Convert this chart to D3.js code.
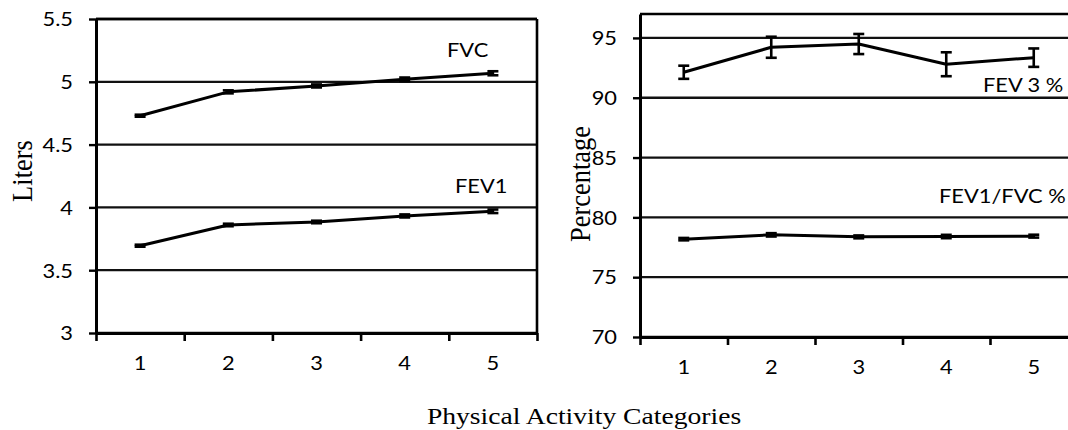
<!DOCTYPE html>
<html>
<head>
<meta charset="utf-8">
<script src="https://cdn.jsdelivr.net/npm/d3@7"></script>
<style>
  html, body { margin: 0; padding: 0; background: #fff; }
  svg { display: block; }
</style>
</head>
<body>
<svg id="chart" width="1068" height="430"></svg>
<script>
// ---------- DATA ----------
const categories = [1, 2, 3, 4, 5];
const fvc      = [4.73, 4.92, 4.967, 5.02, 5.068];
const fvcErr   = [0.008, 0.012, 0.012, 0.014, 0.016];
const fev1     = [3.695, 3.86, 3.884, 3.932, 3.969];
const fev1Err  = [0.008, 0.01, 0.01, 0.012, 0.014];
const fev3Pct  = [92.13, 94.22, 94.49, 92.8, 93.35];
const fev3Err  = [0.55, 0.88, 0.84, 1.0, 0.77];
const ratioPct = [78.18, 78.54, 78.37, 78.4, 78.43];
const ratioErr = [0.1, 0.14, 0.12, 0.14, 0.12];
const leftTicks  = [3, 3.5, 4, 4.5, 5, 5.5];
const rightTicks = [70, 75, 80, 85, 90, 95];
const leftDomain  = [3, 5.5];
const rightDomain = [70, 97];

// ---------- SETUP ----------
const svg = d3.select("#chart");
const SX = 1.15;           // horizontal stretch of the original picture
const tickFont = "Lato, 'Open Sans', sans-serif";
const serif = "'Liberation Serif', 'Times New Roman', serif";
const FS = "19px";

function panel(cfg) {
  const g = svg.append("g");
  const x = d3.scaleBand().domain(cfg.categories).range([cfg.x0, cfg.x1]);
  const xb = d3.scaleLinear().domain([0.5, cfg.categories.length + 0.5]).range([cfg.x0, cfg.x1]);
  const y = d3.scaleLinear().domain(cfg.domain).range([cfg.y1, cfg.y0]);

  // gridlines
  g.append("g").selectAll("line").data(cfg.ticks).join("line")
    .attr("x1", cfg.x0).attr("x2", cfg.x1)
    .attr("y1", d => y(d)).attr("y2", d => y(d))
    .attr("stroke", "#111").attr("stroke-width", 2.3);

  // top border & right border
  g.append("line").attr("x1", cfg.x0).attr("x2", cfg.x1)
    .attr("y1", cfg.y0).attr("y2", cfg.y0)
    .attr("stroke", "#000").attr("stroke-width", 2.6);
  g.append("line").attr("x1", cfg.x1).attr("x2", cfg.x1)
    .attr("y1", cfg.y0).attr("y2", cfg.y1)
    .attr("stroke", "#000").attr("stroke-width", 2.6);

  // y axis
  const ya = g.append("g").attr("transform", `translate(${cfg.x0},0)`)
    .call(d3.axisLeft(y).tickValues(cfg.ticks).tickFormat(d => String(d))
      .tickSize(7).tickSizeOuter(0).tickPadding(0));
  ya.select(".domain").attr("stroke", "#000").attr("stroke-width", 3);
  ya.selectAll(".tick line").attr("stroke", "#000").attr("stroke-width", 2.4);
  ya.selectAll(".tick text")
    .attr("x", null).attr("dy", null).attr("y", null)
    .attr("transform", `translate(-23,6.8) scale(${SX},1)`)
    .attr("text-anchor", "end")
    .style("font-family", tickFont).style("font-size", FS).attr("fill", "#000");

  // x axis tick marks (between categories)
  const xt = g.append("g").attr("transform", `translate(0,${cfg.y1})`)
    .call(d3.axisBottom(xb).tickValues(d3.range(0.5, cfg.categories.length + 1, 1))
      .tickSize(8).tickSizeOuter(0).tickFormat(""));
  xt.select(".domain").attr("stroke", "#000").attr("stroke-width", 3.2);
  xt.selectAll(".tick line").attr("stroke", "#000").attr("stroke-width", 2.6);

  // x axis labels
  const xl = g.append("g").attr("transform", `translate(0,${cfg.y1})`)
    .call(d3.axisBottom(x).tickSize(0).tickPadding(0));
  xl.select(".domain").remove();
  xl.selectAll(".tick text")
    .attr("y", null).attr("dy", null)
    .attr("transform", `translate(0,36.5) scale(${SX},1)`)
    .attr("text-anchor", "middle")
    .style("font-family", tickFont).style("font-size", FS).attr("fill", "#000");

  // series
  cfg.series.forEach(s => {
    const pts = cfg.categories.map((c, i) => ({ c, v: s.values[i], e: s.err[i] }));
    g.append("path").datum(pts)
      .attr("fill", "none").attr("stroke", "#000").attr("stroke-width", 3)
      .attr("stroke-linejoin", "round")
      .attr("d", d3.line().x(d => x(d.c) + x.bandwidth() / 2).y(d => y(d.v)));
    const eb = g.append("g").selectAll("g").data(pts).join("g")
      .attr("stroke", "#000").attr("stroke-width", 2.6);
    const cx = d => x(d.c) + x.bandwidth() / 2;
    eb.append("line").attr("x1", cx).attr("x2", cx)
      .attr("y1", d => y(d.v - d.e)).attr("y2", d => y(d.v + d.e));
    eb.append("line").attr("x1", d => cx(d) - 5.5).attr("x2", d => cx(d) + 5.5)
      .attr("y1", d => y(d.v + d.e)).attr("y2", d => y(d.v + d.e));
    eb.append("line").attr("x1", d => cx(d) - 5.5).attr("x2", d => cx(d) + 5.5)
      .attr("y1", d => y(d.v - d.e)).attr("y2", d => y(d.v - d.e));
    g.append("text")
      .attr("transform", `translate(${s.lx},${s.ly}) scale(${SX},1)`)
      .attr("text-anchor", "start")
      .style("font-family", tickFont).style("font-size", FS).attr("fill", "#000")
      .text(s.name);
  });

  // y title
  g.append("text")
    .attr("transform", `translate(${cfg.titleX},${cfg.titleY}) scale(${SX},1) rotate(-90)`)
    .attr("text-anchor", "middle")
    .style("font-family", serif).style("font-size", "26.5px").attr("fill", "#000")
    .text(cfg.title);
}

panel({
  categories, domain: leftDomain, ticks: leftTicks,
  x0: 96, x1: 537, y0: 19, y1: 333,
  title: "Liters", titleX: 31.5, titleY: 171,
  series: [
    { name: "FVC",  values: fvc,  err: fvcErr,  lx: 447, ly: 57 },
    { name: "FEV1", values: fev1, err: fev1Err, lx: 455, ly: 193 }
  ]
});

panel({
  categories, domain: rightDomain, ticks: rightTicks,
  x0: 640, x1: 1077.5, y0: 14, y1: 337,
  title: "Percentage", titleX: 590, titleY: 184,
  series: [
    { name: "FEV 3 %",    values: fev3Pct,  err: fev3Err,  lx: 983, ly: 92 },
    { name: "FEV1/FVC %", values: ratioPct, err: ratioErr, lx: 939, ly: 203 }
  ]
});

svg.append("text")
  .attr("transform", `translate(584,424) scale(${SX},1)`)
  .attr("text-anchor", "middle")
  .style("font-family", serif).style("font-size", "24px").attr("fill", "#000")
  .text("Physical Activity Categories");
</script>
</body>
</html>
